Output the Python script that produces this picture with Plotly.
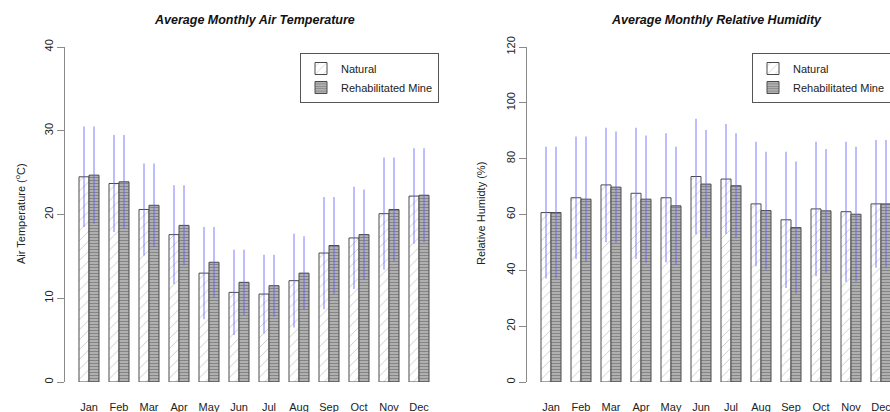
import plotly.graph_objects as go

months = ["Jan", "Feb", "Mar", "Apr", "May", "Jun", "Jul", "Aug", "Sep", "Oct", "Nov", "Dec"]

temp_natural = [24.5, 23.7, 20.6, 17.6, 13.0, 10.7, 10.5, 12.1, 15.4, 17.2, 20.1, 22.2]
temp_rehab = [24.7, 23.9, 21.1, 18.7, 14.3, 11.9, 11.5, 13.0, 16.3, 17.6, 20.6, 22.3]
temp_natural_sd = [6.0, 5.8, 5.5, 5.9, 5.5, 5.1, 4.7, 5.6, 6.7, 6.1, 6.7, 5.7]
temp_rehab_sd = [5.8, 5.6, 5.0, 4.8, 4.2, 3.9, 3.7, 4.4, 5.8, 5.4, 6.2, 5.6]

rh_natural = [60.7, 66.0, 70.6, 67.6, 66.0, 73.6, 72.7, 63.8, 58.1, 62.0, 61.0, 63.8]
rh_rehab = [60.7, 65.5, 69.8, 65.5, 63.1, 70.9, 70.3, 61.4, 55.3, 61.3, 60.1, 63.8]
rh_natural_sd = [23.6, 21.9, 20.5, 23.5, 23.1, 20.7, 19.7, 22.3, 24.4, 24.1, 25.1, 22.9]
rh_rehab_sd = [23.6, 22.4, 19.9, 22.8, 21.2, 19.4, 18.8, 21.1, 23.7, 22.2, 24.2, 22.9]

FONT = "Liberation Sans, Arial, sans-serif"
ERR_COLOR = "rgba(90,90,255,0.5)"

nat_marker = dict(color="white",
                  line=dict(color="#4a4a4a", width=1),
                  pattern=dict(shape="/", fgcolor="#8a8a8a", bgcolor="white", size=7, solidity=0.12))
reh_marker = dict(color="#a8a8a8",
                  line=dict(color="#4a4a4a", width=1),
                  pattern=dict(shape="-", fgcolor="#5a5a5a", bgcolor="#b0b0b0", size=3, solidity=0.35))

def err(sd):
    return dict(type="data", array=sd, visible=True, color=ERR_COLOR, thickness=1.6, width=0)

fig = go.Figure()
fig.add_trace(go.Bar(x=months, y=temp_natural, name="Natural", marker=nat_marker,
                     error_y=err(temp_natural_sd), xaxis="x", yaxis="y", legend="legend"))
fig.add_trace(go.Bar(x=months, y=temp_rehab, name="Rehabilitated Mine", marker=reh_marker,
                     error_y=err(temp_rehab_sd), xaxis="x", yaxis="y", legend="legend"))
fig.add_trace(go.Bar(x=months, y=rh_natural, name="Natural", marker=nat_marker,
                     error_y=err(rh_natural_sd), xaxis="x2", yaxis="y2", legend="legend2"))
fig.add_trace(go.Bar(x=months, y=rh_rehab, name="Rehabilitated Mine", marker=reh_marker,
                     error_y=err(rh_rehab_sd), xaxis="x2", yaxis="y2", legend="legend2"))

W, H = 890, 412
ydom = [(H - 382) / H, (H - 47) / H]

xcommon = dict(showline=False, showgrid=False, zeroline=False, ticks="",
               tickfont=dict(size=11, color="#222", family=FONT), ticklabelstandoff=17,
               fixedrange=True)
ycommon = dict(showline=True, linecolor="#8a8a8a", linewidth=1, showgrid=False, zeroline=False,
               ticks="outside", ticklen=7, tickcolor="#8a8a8a", tickangle=-90,
               tickfont=dict(size=11, color="#222", family=FONT))

legcommon = dict(xanchor="left", yanchor="top", bgcolor="white", bordercolor="#555",
                 borderwidth=1, font=dict(size=11, color="#222", family=FONT),
                 traceorder="normal", itemwidth=30)

fig.update_layout(
    width=W, height=H,
    margin=dict(l=0, r=0, t=0, b=0, autoexpand=False),
    paper_bgcolor="white", plot_bgcolor="white",
    barmode="group", bargap=1/3, bargroupgap=0,
    font=dict(family=FONT),
    xaxis=dict(domain=[65 / W, 443 / W], range=[-0.8, 11.8], anchor="y", **xcommon),
    yaxis=dict(domain=ydom, range=[0, 40], dtick=10, anchor="x", **ycommon),
    xaxis2=dict(domain=[527 / W, 1.0], range=[-0.8, -0.8 + (W - 527) / 30], anchor="y2", **xcommon),
    yaxis2=dict(domain=ydom, range=[0, 120], dtick=20, anchor="x2", **ycommon),
    legend=dict(x=300 / W, y=(H - 53) / H, **legcommon),
    legend2=dict(x=752 / W, y=(H - 53) / H, **legcommon),
    annotations=[
        dict(text="<b><i>Average Monthly Air Temperature</i></b>", x=254 / W, y=(H - 20) / H,
             xref="paper", yref="paper", showarrow=False, xanchor="center", yanchor="middle",
             font=dict(size=12.5, color="#111", family=FONT)),
        dict(text="<b><i>Average Monthly Relative Humidity</i></b>", x=716 / W, y=(H - 20) / H,
             xref="paper", yref="paper", showarrow=False, xanchor="center", yanchor="middle",
             font=dict(size=12.5, color="#111", family=FONT)),
        dict(text="Air Temperature (<sup>o</sup>C)", x=20 / W, y=(H - 214) / H, textangle=-90,
             xref="paper", yref="paper", showarrow=False, xanchor="center", yanchor="middle",
             font=dict(size=11, color="#222", family=FONT)),
        dict(text="Relative Humidty (%)", x=481 / W, y=(H - 214) / H, textangle=-90,
             xref="paper", yref="paper", showarrow=False, xanchor="center", yanchor="middle",
             font=dict(size=11, color="#222", family=FONT)),
    ],
)

fig.write_html("out.html")
